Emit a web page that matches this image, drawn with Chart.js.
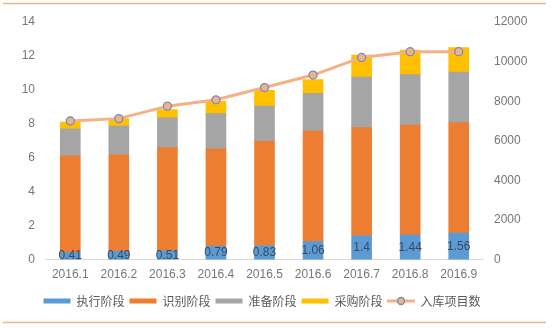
<!DOCTYPE html>
<html><head><meta charset="utf-8">
<script src="https://cdn.jsdelivr.net/npm/chart.js@4/dist/chart.umd.min.js"></script>
<style>html,body{margin:0;padding:0;background:#fff}#wrap{width:554px;height:328px;position:relative}</style>
</head><body><div id="wrap"><canvas id="c"></canvas></div>
<script>
const categories = ['2016.1','2016.2','2016.3','2016.4','2016.5','2016.6','2016.7','2016.8','2016.9'];
const execStage = [0.41,0.49,0.51,0.79,0.83,1.06,1.4,1.44,1.56];
const identifyStage = [5.71,5.69,6.09,5.73,6.14,6.52,6.38,6.49,6.51];
const prepareStage = [1.58,1.68,1.75,2.08,2.08,2.21,2.97,2.97,2.98];
const purchaseStage = [0.4,0.45,0.49,0.73,0.93,0.82,1.3,1.44,1.45];
const storedProjects = [7000,7120,7750,8070,8690,9320,10210,10500,10500];
const leftTicks = [0,2,4,6,8,10,12,14];
const rightTicks = [0,2000,4000,6000,8000,10000,12000];
const seriesNames = ['执行阶段','识别阶段','准备阶段','采购阶段','入库项目数'];

const FONT = "'Liberation Sans', 'Noto Sans CJK SC', sans-serif";
const LEGEND_FONT = "'Noto Sans CJK SC', sans-serif";

// legend icon for line series
const lineIcon = document.createElement('canvas');
lineIcon.width = 28; lineIcon.height = 10;
(function(){
  const g = lineIcon.getContext('2d');
  g.strokeStyle = '#F4B183'; g.lineWidth = 3;
  g.beginPath(); g.moveTo(0,5); g.lineTo(28,5); g.stroke();
  g.beginPath(); g.arc(14,5,3.5,0,Math.PI*2);
  g.fillStyle = '#F4B183'; g.fill();
  g.strokeStyle = '#6F8BC8'; g.lineWidth = 1.3; g.stroke();
})();

const framePlugin = {
  id: 'frame',
  afterLayout(chart) {
    if (chart.legend) { chart.legend.right -= 30; }
  },
  afterDraw(chart) {
    const ctx = chart.ctx;
    ctx.save();
    ctx.strokeStyle = '#F4B183';
    ctx.lineWidth = 1.5;
    ctx.beginPath(); ctx.moveTo(3,3.5); ctx.lineTo(546,3.5); ctx.stroke();
    ctx.beginPath(); ctx.moveTo(3,322.5); ctx.lineTo(546,322.5); ctx.stroke();
    ctx.restore();
  }
};

const labelPlugin = {
  id: 'segLabels',
  afterDatasetsDraw(chart) {
    const meta = chart.getDatasetMeta(0);
    const ctx = chart.ctx;
    ctx.save();
    ctx.font = "12px " + FONT;
    ctx.fillStyle = '#404859';
    ctx.textAlign = 'center';
    ctx.textBaseline = 'middle';
    meta.data.forEach((bar, i) => {
      const y = (bar.y + bar.base) / 2;
      ctx.fillText(String(execStage[i]), bar.x, y);
    });
    ctx.restore();
  }
};

const barDs = (label, data, color) => ({
  type: 'bar', label, data, backgroundColor: color, borderWidth: 0,
  stack: 's', yAxisID: 'y', order: 1, barThickness: 20
});

new Chart(document.getElementById('c'), {
  data: {
    labels: categories,
    datasets: [
      barDs(seriesNames[0], execStage, '#5B9BD5'),
      barDs(seriesNames[1], identifyStage, '#ED7D31'),
      barDs(seriesNames[2], prepareStage, '#A5A5A5'),
      barDs(seriesNames[3], purchaseStage, '#FFC000'),
      {
        type: 'line', label: seriesNames[4], data: storedProjects, yAxisID: 'y1', order: 0,
        borderColor: '#F4B183', borderWidth: 3, backgroundColor: '#F4B183',
        pointRadius: 4, pointBorderColor: '#6F8BC8', pointBorderWidth: 1.3,
        pointBackgroundColor: '#F4B183', tension: 0
      }
    ]
  },
  options: {
    responsive: true, maintainAspectRatio: false, animation: false,
    layout: { padding: { top: 22, bottom: 11, left: 0, right: 0 } },
    plugins: {
      tooltip: { enabled: false },
      legend: {
        position: 'bottom',
        labels: {
          font: { size: 12, family: LEGEND_FONT }, color: '#595959',
          usePointStyle: true, pointStyleWidth: 27, boxHeight: 5, padding: 5,
          sort: (a, b) => a.datasetIndex - b.datasetIndex,
          generateLabels(chart) {
            const items = Chart.defaults.plugins.legend.labels.generateLabels(chart);
            items.forEach(it => {
              if (it.datasetIndex === 4) { it.pointStyle = lineIcon; }
              else { it.pointStyle = 'rect'; it.lineWidth = 0; it.strokeStyle = 'rgba(0,0,0,0)'; }
            });
            return items;
          }
        }
      }
    },
    scales: {
      x: {
        stacked: true,
        grid: { display: false, drawTicks: false },
        border: { display: true, color: '#D9D9D9', width: 1 },
        ticks: { color: '#767676', font: { size: 12, family: FONT }, padding: 8, maxRotation: 0 }
      },
      y: {
        stacked: true, position: 'left', min: 0, max: 14,
        afterBuildTicks(ax) { ax.ticks = leftTicks.map(v => ({ value: v })); },
        afterFit(ax) { ax.width = 46; },
        grid: { display: false, drawTicks: false },
        border: { display: false },
        ticks: { color: '#767676', font: { size: 12, family: FONT }, padding: 11, callback: v => String(v) }
      },
      y1: {
        position: 'right', min: 0, max: 12000, stacked: false,
        afterBuildTicks(ax) { ax.ticks = rightTicks.map(v => ({ value: v })); },
        afterFit(ax) { ax.width = 71; },
        grid: { display: false, drawTicks: false },
        border: { display: false },
        ticks: { color: '#767676', font: { size: 12, family: FONT }, padding: 11, callback: v => String(v) }
      }
    }
  },
  plugins: [labelPlugin, framePlugin]
});
</script></body></html>
